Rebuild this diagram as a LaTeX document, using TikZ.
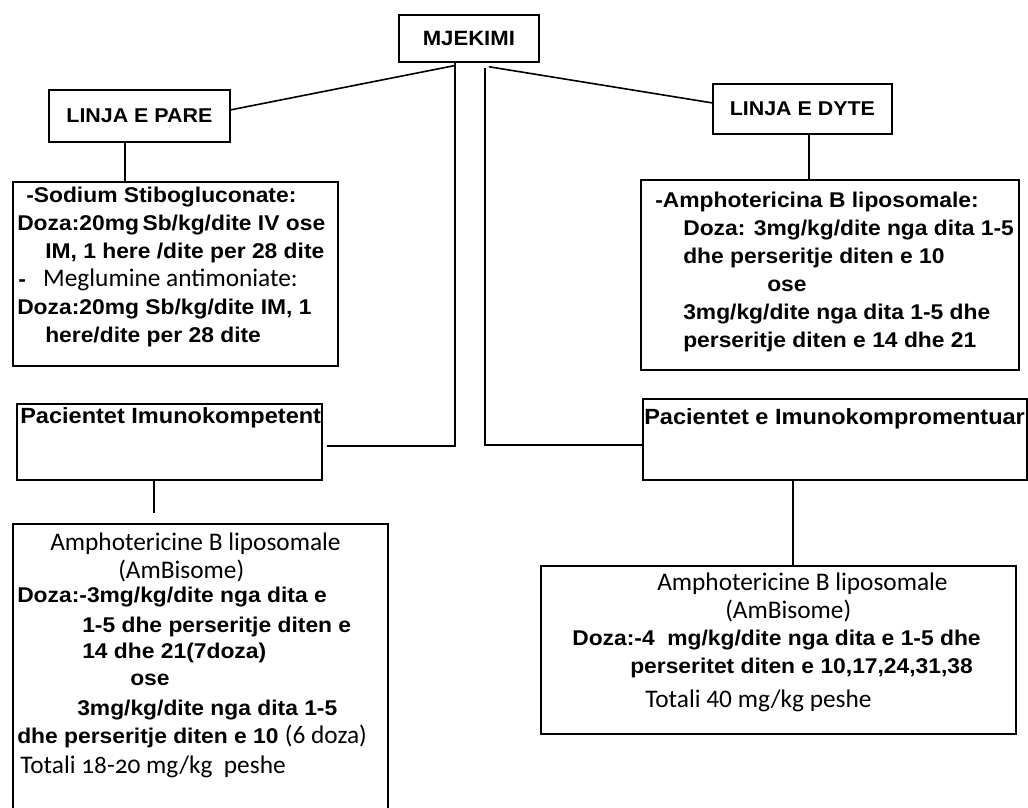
\documentclass[tikz,border=0pt]{standalone}
\usepackage{fontspec}
\setmainfont{Liberation Sans}[FakeStretch=1.07]
\newfontfamily\calibri{Carlito}
\usetikzlibrary{positioning}
\tikzstyle{every box} = []
\tikzstyle{box} = [rectangle, draw, black, line width=1.3pt, anchor=north west,
                   inner sep=0pt, align=center, every box]
\tikzstyle{head} = [font=\bfseries\fontsize{15}{17}\selectfont]
\tikzstyle{txt} = [anchor=base west, align=left, inner sep=0pt,
                   font=\bfseries\fontsize{16}{21}\selectfont]
\tikzstyle{link} = [-, line width=1.2pt]
\newcommand{\reg}{\mdseries\calibri\fontsize{19}{21}\selectfont}
\tikzset{
    ptitle/.style = {txt, font=\bfseries\fontsize{16.5}{21}\selectfont}
}

\begin{document}
\begin{tikzpicture}[x=0.75pt, y=-0.75pt]
            \fill[white] (0,0) rectangle (1028,807);
            \useasboundingbox (0,0) rectangle (1028,807);
            \clip (0,0) rectangle (1028,807);
            % boxes
            \node[box, head, font=\bfseries\fontsize{15.5}{17}\selectfont,
                  minimum width=105pt, minimum height=35.25pt]   (mj) at (398,14)  {MJEKIMI};
            \node[box, head, minimum width=135.75pt, minimum height=39pt]  (l1) at (48,89)   {LINJA E PARE};
            \node[box, head, minimum width=134.25pt, minimum height=37.5pt] (l2) at (712,83)  {LINJA E DYTE};
            \node[box, minimum width=243.75pt, minimum height=138pt]       (s1) at (12,181)  {};
            \node[box, minimum width=283.5pt, minimum height=142.5pt]      (s2) at (640,179) {};
            \node[box, minimum width=228.75pt, minimum height=57pt]        (kp) at (16,403)  {};
            \node[box, minimum width=288pt, minimum height=60.75pt]        (kr) at (642,398) {};
            \node[box, minimum width=281.25pt, minimum height=232pt]       (a1) at (12,523)  {};
            \node[box, minimum width=356.25pt, minimum height=126pt]       (a2) at (540,565) {};

            % texts (placed by the baseline of their last line)
            \node[txt] (s1t) at (17,342) {\hspace*{6.75pt}-Sodium Stibogluconate:\\
                Doza:20mg\,Sb/kg/dite IV ose\\
                \hspace*{21pt}IM, 1 here /dite per 28 dite\\
                \hspace*{0.75pt}-\hspace*{13pt}{\reg Meglumine antimoniate:}\\
                Doza:20mg Sb/kg/dite IM, 1\\
                \hspace*{21pt}here/dite per 28 dite};
            \node[txt] (s2t) at (655,347) {-Amphotericina B liposomale:\\
                \hspace*{21pt}Doza: 3mg/kg/dite nga dita 1-5\\
                \hspace*{21pt}dhe perseritje diten e 10\\
                \hspace*{84pt}ose\\
                \hspace*{21pt}3mg/kg/dite nga dita 1-5 dhe\\
                \hspace*{21pt}perseritje diten e 14 dhe 21};
            \node[ptitle] (kpt) at (20,423)  {Pacientet Imunokompetent};
            \node[ptitle] (krt) at (644,424) {Pacientet e Imunokompromentuar};
            \node[txt] (a1t) at (17,773) {\hspace*{24.75pt}{\reg Amphotericine B liposomale}\\
                \hspace*{75.75pt}{\reg (AmBisome)}\\[-3pt]
                Doza:-3mg/kg/dite nga dita e\\[1.5pt]
                \hspace*{48.75pt}1-5 dhe perseritje diten e\\[-1.5pt]
                \hspace*{48.75pt}14 dhe 21(7doza)\\[-0.75pt]
                \hspace*{84.75pt}ose\\[1.5pt]
                \hspace*{45pt}3mg/kg/dite nga dita 1-5\\
                dhe perseritje diten e 10 {\reg (6 doza)}\\[1.5pt]
                \hspace*{2.25pt}{\reg\addfontfeature{Numbers=OldStyle}Totali 18-20 mg/kg~ peshe}};
            \node[txt] (a2t) at (572,707) {\hspace*{63.75pt}{\reg Amphotericine B liposomale}\\
                \hspace*{114.75pt}{\reg (AmBisome)}\\[-0.75pt]
                Doza:-4~ mg/kg/dite nga dita e 1-5 dhe\\
                \hspace*{43.5pt}perseritet diten e 10,17,24,31,38\\[4.5pt]
                \hspace*{54.75pt}{\reg Totali 40 mg/kg peshe}};

            % connectors
            \path[link] ([xshift=-11.25pt,yshift=-2.25pt]mj.south) edge ([yshift=4.5pt]l1.east)
                        ([xshift=15pt,yshift=-3pt]mj.south)       edge ([yshift=4.5pt]l2.west);
            \draw[link] ([xshift=3pt,yshift=-3pt]kp.east) -| ([xshift=-10.5pt]mj.south);
            \draw[link] ([yshift=-4pt]kr.west) -| ([xshift=12pt,yshift=-3.75pt]mj.south);
            \draw[link] ([xshift=-10.9pt]l1.south) -- ([xshift=-10.9pt]l1.south |- s1.north);
            \draw[link] ([xshift=4.9pt]l2.south) -- ([xshift=4.9pt]l2.south |- s2.north);
            \draw[link, shorten >=7.5pt] ([xshift=-11.6pt]kp.south) -- ([xshift=-11.6pt]kp.south |- a1.north);
            \draw[link] ([xshift=-31.5pt]kr.south) -- ([xshift=-31.5pt]kr.south |- a2.north);
\end{tikzpicture}
\end{document}
